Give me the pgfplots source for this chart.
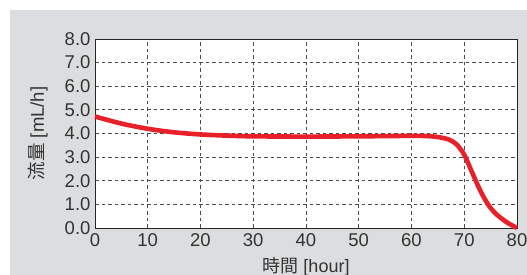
\documentclass[border=0pt]{standalone}
\usepackage{pgfplots}
\pgfplotsset{compat=1.18}
\usepackage{fontspec}
\setmainfont{Liberation Sans}
\newfontfamily\cjk{Noto Sans CJK JP}
\definecolor{panel}{HTML}{DCDDDF}
\definecolor{txt}{HTML}{333333}
\definecolor{curve}{HTML}{E8202A}
\begin{document}
\begin{tikzpicture}
\useasboundingbox (0pt,0pt) rectangle (527pt,275pt);
\fill[panel] (10pt,0pt) rectangle (527pt,265pt);
\begin{axis}[
  at={(95pt,47pt)}, anchor=south west,
  scale only axis, width=422pt, height=189pt,
  xmin=0, xmax=80, ymin=0, ymax=8,
  xtick={0,10,...,80}, ytick={0,1,...,8},
  axis background/.style={fill=white},
  grid=major,
  major grid style={black!70, line width=0.9pt, dash pattern=on 3.5pt off 3pt},
  axis line style={black!85, line width=0.9pt},
  major tick length=0pt,
  tick label style={font=\fontsize{18.5}{18.5}\selectfont, text=txt},
  /pgf/number format/assume math mode=true,
  yticklabel style={/pgf/number format/fixed, /pgf/number format/fixed zerofill, /pgf/number format/precision=1},
  xticklabel style={yshift=-2pt},
  yticklabel style={xshift=-1pt},
  xlabel={{\cjk 時間} [hour]},
  ylabel={{\cjk 流量} [mL/h]},
  every axis x label/.style={at={(211pt,-26pt)}, anchor=north, font=\fontsize{18}{18}\selectfont, text=txt},
  every axis y label/.style={at={(-57pt,94.5pt)}, rotate=90, anchor=center, font=\fontsize{18.5}{18.5}\selectfont, text=txt},
  clip=false,
]
\addplot[curve, line width=4.6pt, smooth, tension=0.5] coordinates {
(0,4.72) (5,4.42) (10,4.2) (15,4.05) (20,3.96) (25,3.91) (30,3.88) (40,3.87) (50,3.88) (60,3.9) (63,3.89) (65,3.85) (67,3.75) (68.5,3.55) (70,3.1) (71.5,2.35) (73,1.6) (74.5,1.0) (76,0.6) (78,0.25) (80,0)
};
\end{axis}
\end{tikzpicture}
\end{document}
